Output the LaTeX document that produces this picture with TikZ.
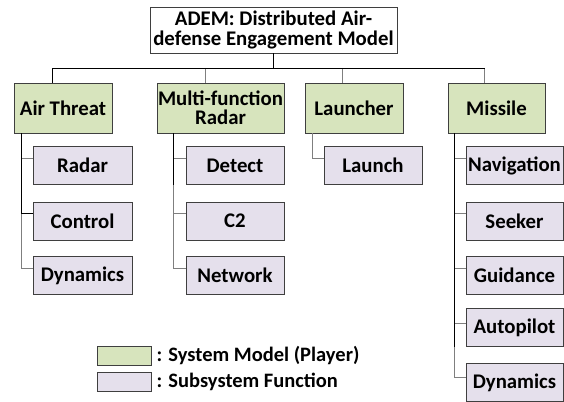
\documentclass[tikz,border=0pt]{standalone}
\usepackage{fontspec}
\setmainfont{Carlito}
\usetikzlibrary{calc}
\definecolor{sysgreen}{HTML}{D7E4BD}
\definecolor{subpurple}{HTML}{E5E0EC}
\definecolor{boxline}{HTML}{3F3F3F}
\definecolor{linkgray}{HTML}{7F7F7F}
\begin{document}
\begin{tikzpicture}[x=1pt,y=-1pt,
  every node/.style={font=\fontsize{20.8}{19.5}\selectfont\bfseries, inner sep=0pt, align=center},
  topbox/.style={draw=boxline, line width=0.9pt, fill=white, minimum width=247pt, minimum height=46pt},
  sysbox/.style={draw=boxline, line width=0.9pt, fill=sysgreen, minimum height=50pt},
  subbox/.style={draw=boxline, line width=0.9pt, fill=subpurple, minimum height=38pt},
  legbox/.style={draw=boxline, line width=0.9pt, minimum width=54pt, minimum height=19pt},
  legtext/.style={font=\fontsize{20.5}{18}\selectfont\bfseries, anchor=west},
  trunk/.style={draw=black, line width=0.9pt},
  branch/.style={draw=linkgray, line width=0.9pt}]
\useasboundingbox (0,0) rectangle (564,401);
% top
\node[topbox] (top) at (273.5,30) {ADEM: Distributed Air-\\defense Engagement Model};
% system models
\node[sysbox, minimum width=98pt] (air) at (63,108) {Air Threat};
\node[sysbox, minimum width=127pt] (mfr) at (220.5,108) {Multi-function\\Radar};
\node[sysbox, minimum width=98pt] (lau) at (354,108) {Launcher};
\node[sysbox, minimum width=97pt] (mis) at (496.5,108) {Missile};
% subsystems
\node[subbox, minimum width=99pt] (a1) at (82.5,165.5) {Radar};
\node[subbox, minimum width=99pt] (a2) at (82.5,221) {Control};
\node[subbox, minimum width=99pt] (a3) at (82.5,275.5) {Dynamics};
\node[subbox, minimum width=98pt] (r1) at (235,165.5) {Detect};
\node[subbox, minimum width=98pt] (r2) at (235,221) {C2};
\node[subbox, minimum width=98pt] (r3) at (235,275.5) {Network};
\node[subbox, minimum width=98pt] (l1) at (373,165.5) {Launch};
\node[subbox, minimum width=97pt] (m1) at (514.5,165.5) {Navigation};
\node[subbox, minimum width=97pt] (m2) at (514.5,221) {Seeker};
\node[subbox, minimum width=97pt] (m3) at (514.5,275.5) {Guidance};
\node[subbox, minimum width=97pt] (m4) at (514.5,327.5) {Autopilot};
\node[subbox, minimum width=97pt] (m5) at (514.5,382.5) {Dynamics};
% bus
\coordinate (bus) at (0,68);
\draw[branch] ([xshift=49pt]mfr.north west |- bus) -- ([xshift=49pt]mfr.north west);
\draw[branch] ([xshift=38pt]lau.north west |- bus) -- ([xshift=38pt]lau.north west);
\draw[branch] ([xshift=37pt]mis.north west |- bus) -- ([xshift=37pt]mis.north west);
\draw[trunk] (top.south) |- ([xshift=39pt]air.north west |- bus) -- ([xshift=39pt]air.north west);
\draw[trunk] (top.south) |- ([xshift=37pt]mis.north west |- bus);
% air threat tree
\draw[branch] ([xshift=8pt]air.south west) |- ([yshift=7.5pt]a3.west);
\draw[trunk] ([xshift=8pt]air.south west) |- ([yshift=7.5pt]a2.west);
\draw[branch] ([xshift=8pt]air.south west) |- ([yshift=7.5pt]a1.west);
\draw[trunk] ([xshift=8pt]air.south west) -- ([xshift=8pt]air.south west |- a1.south);
% MFR tree
\draw[branch] ([xshift=17pt]mfr.south west) |- ([yshift=7.5pt]r3.west);
\draw[branch] ([xshift=17pt]mfr.south west) |- ([yshift=7.5pt]r2.west);
\draw[branch] ([xshift=17pt]mfr.south west) |- ([yshift=7.5pt]r1.west);
\draw[trunk] ([xshift=17pt]mfr.south west) -- ([xshift=17pt]mfr.south west |- a1.south);
% launcher tree
\draw[branch] ([xshift=8pt]lau.south west) |- ([yshift=7.5pt]l1.west);
% missile tree
\draw[branch] ([xshift=7pt]mis.south west) |- ([yshift=5.5pt]m5.west);
\draw[branch] ([xshift=7pt]mis.south west) |- ([yshift=4.5pt]m4.west);
\draw[branch] ([xshift=7pt]mis.south west) |- ([yshift=7.5pt]m3.west);
\draw[branch] ([xshift=7pt]mis.south west) |- ([yshift=7.5pt]m2.west);
\draw[branch] ([xshift=7pt]mis.south west) |- ([yshift=7.5pt]m1.west);
\draw[trunk] ([xshift=7pt]mis.south west) -- ([xshift=7pt]mis.south west |- m4.south);
% legend
\node[legbox, fill=sysgreen] (lg1) at (124,355.5) {};
\node[legbox, fill=subpurple] (lg2) at (124,382) {};
\node[legtext] (lt1) at ([xshift=5pt]lg1.east) {: System Model (Player)};
\node[legtext] (lt2) at ([xshift=5pt]lg2.east) {: Subsystem Function};
\end{tikzpicture}
\end{document}
